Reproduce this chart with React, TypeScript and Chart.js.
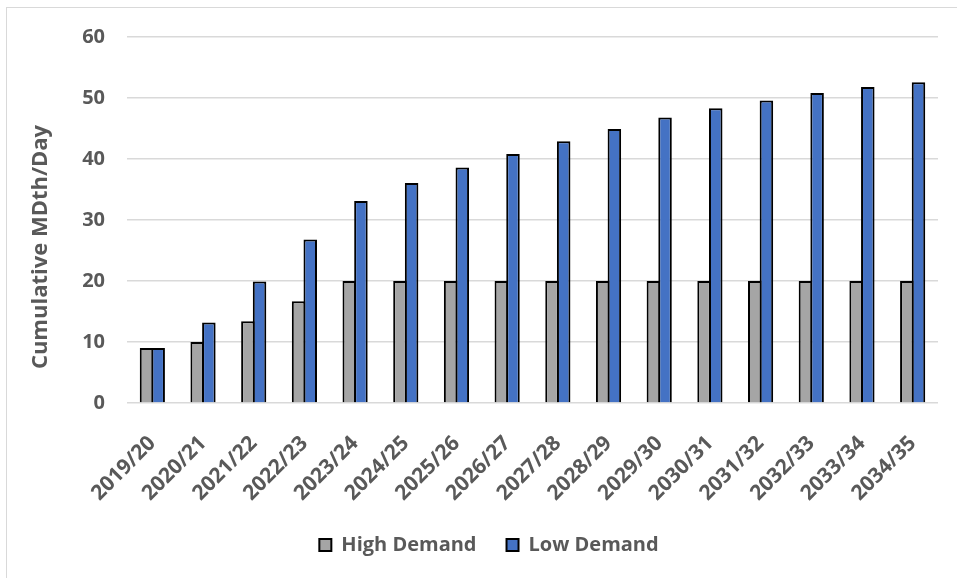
import React, { useEffect, useRef } from "react";
import { Chart, registerables } from "chart.js";

Chart.register(...registerables);

const categories = [
  "2019/20", "2020/21", "2021/22", "2022/23", "2023/24", "2024/25", "2025/26", "2026/27",
  "2027/28", "2028/29", "2029/30", "2030/31", "2031/32", "2032/33", "2033/34", "2034/35",
];
const highDemand = [9.0, 10.0, 13.4, 16.7, 20, 20, 20, 20, 20, 20, 20, 20, 20, 20, 20, 20];
const lowDemand = [9.0, 13.2, 19.9, 26.8, 33.1, 36.05, 38.6, 40.8, 42.9, 44.9, 46.8, 48.3, 49.6, 50.8, 51.8, 52.6];
const yTitle = "Cumulative MDth/Day";

const FONT = "'Open Sans', Lato, sans-serif";
const TEXT = "#595959";

export default function App() {
  const ref = useRef<HTMLCanvasElement | null>(null);

  useEffect(() => {
    document.body.style.margin = "0";
    const canvas = ref.current!;
    const yTitlePlugin = {
      id: "yTitlePlugin",
      afterDraw(chart: any) {
        const ctx = chart.ctx;
        ctx.save();
        ctx.translate(41, 247);
        ctx.rotate(-Math.PI / 2);
        ctx.font = `bold 22px ${FONT}`;
        ctx.fillStyle = TEXT;
        ctx.textAlign = "center";
        ctx.textBaseline = "middle";
        ctx.fillText(yTitle, 0, 0);
        ctx.restore();
      },
    };
    const legendShift = {
      id: "legendShift",
      afterLayout(chart: any) {
        const l = chart.legend;
        if (l) {
          l.left += 20;
          l.right += 20;
        }
      },
    };
    const chart = new Chart(canvas, {
      type: "bar",
      data: {
        labels: categories,
        datasets: [
          {
            label: "High Demand",
            data: highDemand,
            backgroundColor: "#A5A5A5",
            borderColor: "#000000",
            borderWidth: 2,
            categoryPercentage: 0.46,
            barPercentage: 1.16,
          },
          {
            label: "Low Demand",
            data: lowDemand,
            backgroundColor: "#4472C4",
            borderColor: "#000000",
            borderWidth: 2,
            categoryPercentage: 0.46,
            barPercentage: 1.16,
          },
        ],
      },
      options: {
        responsive: false,
        animation: false,
        devicePixelRatio: 1,
        layout: { padding: { left: 0, right: 19, top: 37, bottom: 13 } },
        plugins: {
          legend: {
            position: "bottom",
            labels: {
              font: { family: FONT, size: 20, weight: "bold" },
              color: TEXT,
              boxWidth: 12,
              boxHeight: 12,
              padding: 30,
            },
          },
          tooltip: { enabled: false },
        },
        scales: {
          x: {
            grid: { display: false },
            border: { display: false },
            ticks: {
              font: { family: FONT, size: 21, weight: "bold" },
              color: TEXT,
              maxRotation: 45,
              minRotation: 45,
              padding: 20,
              autoSkip: false,
            },
            afterFit(scale: any) {
              scale.height = 102;
            },
          },
          y: {
            min: 0,
            max: 60,
            grid: { color: "#D9D9D9", lineWidth: 1.5, drawTicks: false },
            border: { display: false },
            ticks: {
              stepSize: 10,
              font: { family: FONT, size: 20, weight: "bold" },
              color: TEXT,
              padding: 22,
            },
            afterFit(scale: any) {
              scale.width = 127;
            },
          },
        },
      },
      plugins: [yTitlePlugin, legendShift],
    });
    return () => chart.destroy();
  }, []);

  return (
    <div style={{ position: "absolute", left: 0, top: 0, width: 957, height: 578, background: "#fff", overflow: "hidden" }}>
      <div
        style={{
          position: "absolute",
          left: 6,
          top: 7,
          width: 970,
          height: 590,
          border: "1.5px solid #D9D9D9",
          boxSizing: "border-box",
        }}
      />
      <canvas ref={ref} width={957} height={578} style={{ position: "absolute", left: 0, top: 0 }} />
    </div>
  );
}
